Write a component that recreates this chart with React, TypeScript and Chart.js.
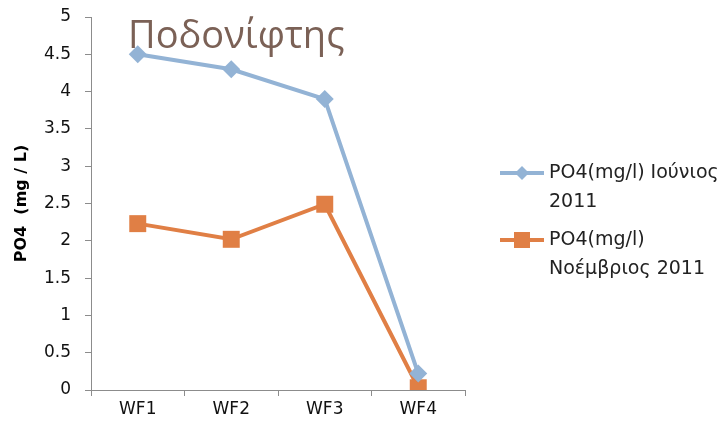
import React, { useEffect, useRef } from "react";
import { Chart, registerables } from "chart.js";

Chart.register(...registerables);

const categories = ["WF1", "WF2", "WF3", "WF4"];
const juneValues = [4.5, 4.3, 3.9, 0.22];
const novValues = [2.23, 2.02, 2.49, 0.03];
const seriesNames = [["PO4(mg/l) Ιούνιος", "2011"], ["PO4(mg/l)", "Νοέμβριος 2011"]];
const titleText = "Ποδονίφτης";
const yAxisTitle = "PO4  (mg / L)";

const BLUE = "#93b3d5";
const ORANGE = "#e07f45";
const FONT = "'DejaVu Sans', sans-serif";
const TITLE_FONT = "'Open Sans', 'DejaVu Sans', sans-serif";

const overlayPlugin = {
  id: "overlay",
  afterDraw(chart: any) {
    const ctx = chart.ctx;
    const area = chart.chartArea;
    ctx.save();
    ctx.fillStyle = "#7b6156";
    ctx.font = `38px ${TITLE_FONT}`;
    ctx.textBaseline = "alphabetic";
    ctx.textAlign = "left";
    ctx.fillText(titleText, area.left + 37, area.top + 31);

    const lx = area.right + 35;
    const items = [
      { color: BLUE, style: "rectRot", y: 173, lines: seriesNames[0] },
      { color: ORANGE, style: "rect", y: 240, lines: seriesNames[1] },
    ];
    items.forEach((it) => {
      ctx.strokeStyle = it.color;
      ctx.lineWidth = 4;
      ctx.beginPath();
      ctx.moveTo(lx, it.y);
      ctx.lineTo(lx + 44, it.y);
      ctx.stroke();
      ctx.fillStyle = it.color;
      const cx = lx + 22;
      if (it.style === "rect") {
        ctx.fillRect(cx - 8, it.y - 8, 16, 16);
      } else {
        ctx.beginPath();
        ctx.moveTo(cx, it.y - 7);
        ctx.lineTo(cx + 7, it.y);
        ctx.lineTo(cx, it.y + 7);
        ctx.lineTo(cx - 7, it.y);
        ctx.closePath();
        ctx.fill();
      }
      ctx.fillStyle = "#222";
      ctx.font = `19px ${FONT}`;
      ctx.textBaseline = "middle";
      it.lines.forEach((ln: string, i: number) => {
        ctx.fillText(ln, lx + 49, it.y + i * 29);
      });
    });
    ctx.restore();
  },
};

export default function App() {
  const ref = useRef<HTMLCanvasElement>(null);
  useEffect(() => {
    if (!ref.current) return;
    const chart = new Chart(ref.current, {
      type: "line",
      data: {
        labels: categories,
        datasets: [
          {
            label: seriesNames[0].join(" "),
            data: juneValues,
            borderColor: BLUE,
            backgroundColor: BLUE,
            borderWidth: 4,
            pointStyle: "rectRot",
            pointRadius: 9,
            pointHoverRadius: 9,
            pointBorderWidth: 0,
          },
          {
            label: seriesNames[1].join(" "),
            data: novValues,
            borderColor: ORANGE,
            backgroundColor: ORANGE,
            borderWidth: 4,
            pointStyle: "rect",
            pointRadius: 12,
            pointHoverRadius: 12,
            pointBorderWidth: 0,
          },
        ],
      },
      options: {
        animation: false,
        responsive: false,
        maintainAspectRatio: false,
        layout: { padding: { top: 17, right: 262, left: 0, bottom: 0 } },
        plugins: {
          legend: { display: false },
          tooltip: { enabled: false },
        },
        scales: {
          x: {
            offset: true,
            grid: {
              offset: true,
              drawOnChartArea: false,
              tickLength: 6,
              color: "#8c8c8c",
            },
            border: { color: "#8c8c8c", width: 1 },
            ticks: { color: "#111", font: { family: FONT, size: 17 }, padding: 3 },
            afterFit: (s: any) => {
              s.height = 35;
              s.paddingLeft = 0;
              s.paddingRight = 0;
            },
          },
          y: {
            min: 0,
            max: 5,
            ticks: {
              stepSize: 0.5,
              color: "#111",
              font: { family: FONT, size: 17 },
              padding: 14,
              callback: (v: any) => String(Number(v)),
            },
            grid: { drawOnChartArea: false, tickLength: 6, color: "#8c8c8c" },
            border: { color: "#8c8c8c", width: 1 },
            title: {
              display: true,
              text: yAxisTitle,
              color: "#000",
              font: { family: FONT, size: 16, weight: "bold" },
              padding: { top: 12, bottom: 0 },
            },
            afterFit: (s: any) => {
              s.width = 91;
              s.paddingTop = 0;
              s.paddingBottom = 0;
            },
          },
        },
      },
      plugins: [overlayPlugin],
    });
    return () => chart.destroy();
  }, []);
  return (
    <div style={{ position: "absolute", left: 0, top: 0, width: 727, height: 425 }}>
      <canvas ref={ref} width={727} height={425} />
    </div>
  );
}
